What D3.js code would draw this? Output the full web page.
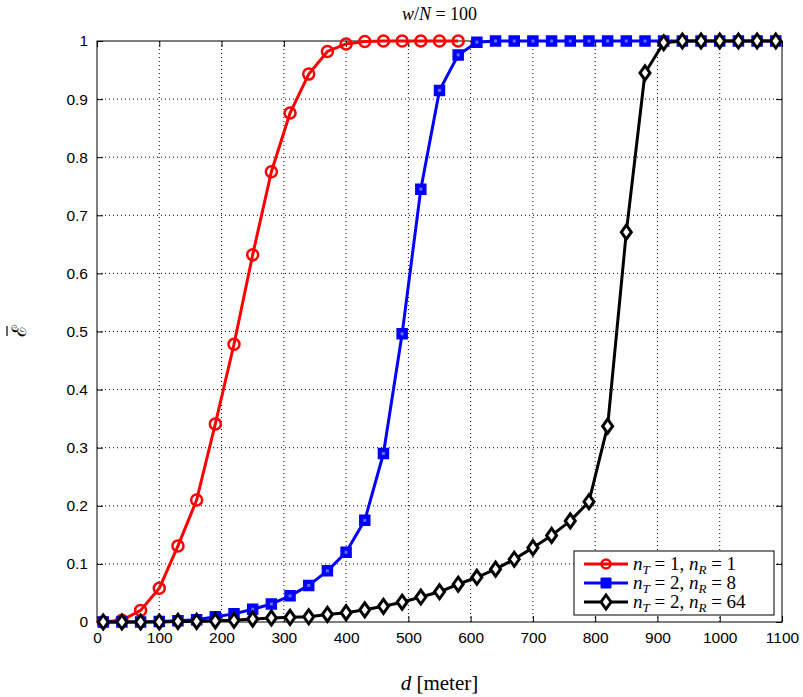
<!DOCTYPE html>
<html><head><meta charset="utf-8">
<script src="https://cdn.jsdelivr.net/npm/d3@7"></script>
<style>body{margin:0;background:#fff;} svg{display:block;}</style>
</head><body><svg id="c" width="803" height="697"></svg>
<script>
const xTicks = [0,100,200,300,400,500,600,700,800,900,1000,1100];
const yTicks = [0,0.1,0.2,0.3,0.4,0.5,0.6,0.7,0.8,0.9,1];
const dRed = [10,40,70,100,130,160,190,220,250,280,310,340,370,400,430,460,490,520,550,580];
const eRed = [0,0.003,0.02,0.058,0.131,0.21,0.341,0.478,0.632,0.775,0.876,0.943,0.982,0.995,0.999,1,1,1,1,1];
const dAll = [10,40,70,100,130,160,190,220,250,280,310,340,370,400,430,460,490,520,550,580,610,640,670,700,730,760,790,820,850,880,910,940,970,1000,1030,1060,1090];
const eBlue = [0,0,0,0.001,0.002,0.004,0.009,0.014,0.022,0.031,0.045,0.063,0.088,0.12,0.175,0.29,0.496,0.745,0.915,0.976,0.998,1,1,1,1,1,1,1,1,1,1,1,1,1,1,1,1];
const eBlack = [0,0,0,0,0.001,0.001,0.002,0.003,0.005,0.007,0.008,0.009,0.013,0.016,0.021,0.027,0.034,0.043,0.052,0.065,0.077,0.091,0.108,0.128,0.149,0.174,0.207,0.337,0.671,0.945,0.997,1,1,1,1,1,1];
const seriesNames = ["n_T = 1, n_R = 1","n_T = 2, n_R = 8","n_T = 2, n_R = 64"];
const legendParts = [["1","1"],["2","8"],["2","64"]];

const svg = d3.select("#c");
const L=97,R=782,T=41,B=622;
const x = d3.scaleLinear().domain([0,1100]).range([L,R]);
const y = d3.scaleLinear().domain([0,1]).range([B,T]);

// grid
const g = svg.append("g");
g.selectAll(".vx").data(xTicks.slice(1,-1)).enter().append("line")
  .attr("x1",d=>x(d)).attr("x2",d=>x(d)).attr("y1",T).attr("y2",B)
  .attr("stroke","#000").attr("stroke-width",1).attr("stroke-dasharray","1,3");
g.selectAll(".hy").data(yTicks.slice(1,-1)).enter().append("line")
  .attr("y1",d=>y(d)).attr("y2",d=>y(d)).attr("x1",L).attr("x2",R)
  .attr("stroke","#000").attr("stroke-width",1).attr("stroke-dasharray","1,3");

// axes
const fontTick = "Liberation Sans, Arial, sans-serif";
const xa = svg.append("g").attr("transform",`translate(0,${B})`)
  .call(d3.axisBottom(x).tickValues(xTicks).tickSize(-6).tickPadding(10).tickFormat(d3.format("d")));
const xa2 = svg.append("g").attr("transform",`translate(0,${T})`)
  .call(d3.axisTop(x).tickValues(xTicks).tickSize(-6).tickFormat(""));
const ya = svg.append("g").attr("transform",`translate(${L},0)`)
  .call(d3.axisLeft(y).tickValues(yTicks).tickSize(-6).tickPadding(9).tickFormat(d=>d===0?"0":d===1?"1":d3.format(".1f")(d)));
const ya2 = svg.append("g").attr("transform",`translate(${R},0)`)
  .call(d3.axisRight(y).tickValues(yTicks).tickSize(-6).tickFormat(""));
[xa,xa2,ya,ya2].forEach(a=>{
  a.selectAll("text").attr("font-family",fontTick).attr("font-size",15.5).attr("fill","#000");
  a.select(".domain").remove();
  a.selectAll("line").attr("stroke","#000");
});
svg.append("rect").attr("x",L).attr("y",T).attr("width",R-L).attr("height",B-T)
  .attr("fill","none").attr("stroke","#000").attr("stroke-width",1);

// series
const line = d3.line().x(d=>x(d[0])).y(d=>y(d[1]));
const sqSym = d3.symbol().type(d3.symbolSquare).size(100);
function diamond(cx,cy){return `M${cx},${cy-7} L${cx+5},${cy} L${cx},${cy+7} L${cx-5},${cy} Z`;}

function drawSeries(xs, ys, color, type){
  const pts = xs.map((d,i)=>[d,ys[i]]);
  const s = svg.append("g");
  s.append("path").datum(pts).attr("d",line).attr("fill","none")
    .attr("stroke",color).attr("stroke-width",3).attr("stroke-linejoin","round");
  if(type==="circle"){
    s.selectAll("circle").data(pts).enter().append("circle")
      .attr("cx",d=>x(d[0])).attr("cy",d=>y(d[1])).attr("r",5.5)
      .attr("fill","none").attr("stroke",color).attr("stroke-width",2.5);
  } else if(type==="square"){
    s.selectAll("path.m").data(pts).enter().append("path").attr("class","m")
      .attr("transform",d=>`translate(${x(d[0])},${y(d[1])})`).attr("d",sqSym)
      .attr("fill",color).attr("stroke",color).attr("stroke-width",1.5);
    s.selectAll("rect.c").data(pts).enter().append("rect").attr("class","c")
      .attr("x",d=>x(d[0])-1.5).attr("y",d=>y(d[1])-1.5).attr("width",3).attr("height",3)
      .attr("fill","#6a6aff");
  } else {
    s.selectAll("path.m").data(pts).enter().append("path").attr("class","m")
      .attr("d",d=>diamond(x(d[0]),y(d[1])))
      .attr("fill","#fff").attr("stroke",color).attr("stroke-width",3);
  }
}
drawSeries(dRed,eRed,"#ff0000","circle");
drawSeries(dAll,eBlue,"#0000ff","square");
drawSeries(dAll,eBlack,"#000000","diamond");

// title
const lserif = "Liberation Serif, Times New Roman, serif";
const t = svg.append("text").attr("x",(L+R)/2).attr("y",20).attr("text-anchor","middle")
  .attr("font-family",lserif).attr("font-size",18);
t.append("tspan").attr("font-style","italic").text("w");
t.append("tspan").text("/");
t.append("tspan").attr("font-style","italic").text("N");
t.append("tspan").text(" = 100");

// x label
const xl = svg.append("text").attr("x",(L+R)/2).attr("y",690).attr("text-anchor","middle")
  .attr("font-family",lserif).attr("font-size",21);
xl.append("tspan").attr("font-style","italic").text("d");
xl.append("tspan").text(" [meter]");

// y label
const yl = svg.append("g").attr("transform","translate(26,331) rotate(-90)");
yl.append("text").attr("text-anchor","middle").attr("font-family","DejaVu Serif, serif")
  .attr("font-size",20).text("ℰ");
yl.append("line").attr("x1",-5).attr("x2",5).attr("y1",-19).attr("y2",-19).attr("stroke","#000").attr("stroke-width",1.2);

// legend
const lg = svg.append("g");
lg.append("rect").attr("x",574).attr("y",551).attr("width",200).attr("height",64)
  .attr("fill","#fff").attr("stroke","#000").attr("stroke-width",1);
const colors = ["#ff0000","#0000ff","#000000"];
const types = ["circle","square","diamond"];
seriesNames.forEach((nm,i)=>{
  const cy = 564 + i*19;
  lg.append("line").attr("x1",584).attr("x2",628).attr("y1",cy).attr("y2",cy)
    .attr("stroke",colors[i]).attr("stroke-width",3);
  if(types[i]==="circle") lg.append("circle").attr("cx",606).attr("cy",cy).attr("r",4.5)
    .attr("fill","none").attr("stroke",colors[i]).attr("stroke-width",2.5);
  else if(types[i]==="square") lg.append("path").attr("transform",`translate(606,${cy})`).attr("d",sqSym)
    .attr("fill",colors[i]).attr("stroke",colors[i]);
  else lg.append("path").attr("d",diamond(606,cy)).attr("fill","#fff").attr("stroke",colors[i]).attr("stroke-width",3);
  const tx = lg.append("text").attr("x",633).attr("y",cy+6).attr("font-family",lserif).attr("font-size",19);
  tx.append("tspan").attr("font-style","italic").text("n");
  tx.append("tspan").attr("font-style","italic").attr("font-size",13).attr("dy",4).text("T");
  tx.append("tspan").attr("dy",-4).text(" = " + legendParts[i][0] + ", ");
  tx.append("tspan").attr("font-style","italic").text("n");
  tx.append("tspan").attr("font-style","italic").attr("font-size",13).attr("dy",4).text("R");
  tx.append("tspan").attr("dy",-4).text(" = " + legendParts[i][1]);
});
</script></body></html>
